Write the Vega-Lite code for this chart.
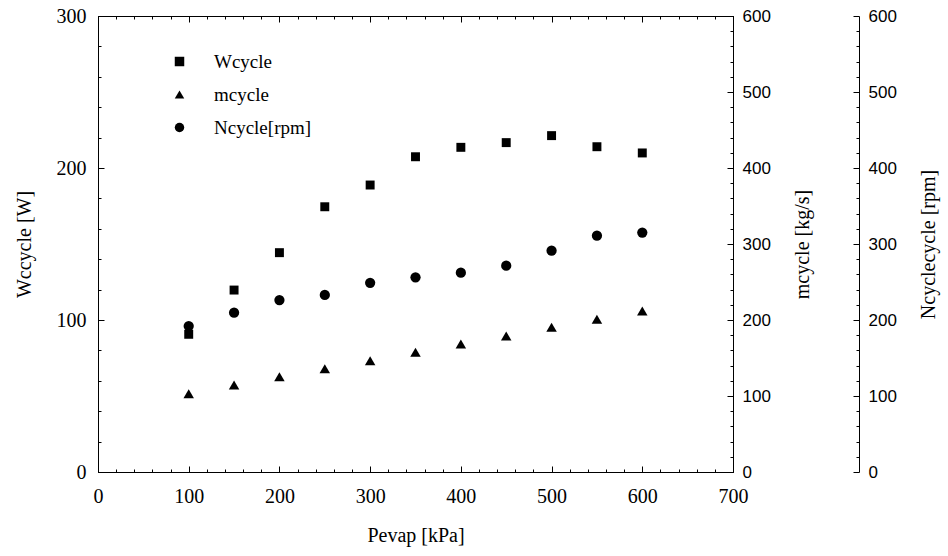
{
  "$schema": "https://vega.github.io/schema/vega-lite/v6.json",
  "width": 635,
  "height": 456,
  "autosize": {"type": "none"},
  "padding": {"left": 98, "top": 16, "right": 215, "bottom": 84},
  "background": "white",
  "config": {
    "view": {"stroke": "black", "strokeWidth": 1},
    "axis": {
      "domainColor": "black",
      "tickColor": "black",
      "labelColor": "black",
      "titleColor": "black",
      "grid": false,
      "labelOverlap": false,
      "labelFlush": false,
      "titleFontWeight": "normal"
    },
    "legend": {"labelFont": "Liberation Serif", "labelFontSize": 19, "labelColor": "black"}
  },
  "data": {
    "values": [
      {"P": 100, "W": 90.6, "m": 103.0, "N": 192.0},
      {"P": 150, "W": 119.7, "m": 114.5, "N": 209.6},
      {"P": 200, "W": 144.3, "m": 125.4, "N": 226.3},
      {"P": 250, "W": 174.5, "m": 135.9, "N": 232.9},
      {"P": 300, "W": 188.8, "m": 146.4, "N": 249.0},
      {"P": 350, "W": 207.4, "m": 157.5, "N": 256.1},
      {"P": 400, "W": 213.6, "m": 168.4, "N": 262.3},
      {"P": 450, "W": 216.7, "m": 179.0, "N": 271.4},
      {"P": 500, "W": 221.3, "m": 190.4, "N": 291.2},
      {"P": 550, "W": 214.0, "m": 200.9, "N": 311.0},
      {"P": 600, "W": 209.9, "m": 211.8, "N": 315.0}
    ]
  },
  "resolve": {"scale": {"x": "independent", "y": "independent"}},
  "layer": [
    {
      "mark": {"type": "point", "filled": true, "color": "black", "opacity": 1, "size": 80},
      "encoding": {
        "x": {
          "field": "P", "type": "quantitative",
          "scale": {"domain": [0, 700], "nice": false, "zero": false},
          "axis": {
            "orient": "bottom",
            "values": [0,20,40,60,80,100,120,140,160,180,200,220,240,260,280,300,320,340,360,380,400,420,440,460,480,500,520,540,560,580,600,620,640,660,680,700],
            "labelExpr": "datum.value % 100 === 0 ? datum.label : ''",
            "tickSize": {"condition": {"test": "datum.value % 100 === 0", "value": -6}, "value": -3},
            "labelPadding": 20,
            "labelFont": "Liberation Serif",
            "labelFontSize": 20,
            "title": "Pevap [kPa]",
            "titleFont": "Liberation Serif",
            "titleFontSize": 20,
            "titlePadding": 16
          }
        },
        "y": {
          "field": "W", "type": "quantitative",
          "scale": {"domain": [0, 300], "nice": false, "zero": false},
          "axis": {
            "orient": "left",
            "values": [0,20,40,60,80,100,120,140,160,180,200,220,240,260,280,300],
            "labelExpr": "datum.value % 100 === 0 ? datum.label : ''",
            "tickSize": {"condition": {"test": "datum.value % 100 === 0", "value": -6}, "value": -3},
            "labelPadding": 18,
            "labelFont": "Liberation Serif",
            "labelFontSize": 20,
            "title": "Wccycle [W]",
            "titleFont": "Liberation Serif",
            "titleFontSize": 20,
            "titlePadding": 22
          }
        },
        "shape": {
          "datum": "Wcycle",
          "type": "nominal",
          "scale": {"domain": ["Wcycle", "mcycle", "Ncycle[rpm]"], "range": ["square", "triangle-up", "circle"]},
          "legend": {
            "title": null,
            "orient": "none",
            "legendX": 72,
            "legendY": 36,
            "padding": 0,
            "symbolSize": 90,
            "symbolFillColor": "black",
            "symbolStrokeColor": "black",
            "symbolStrokeWidth": 0,
            "labelOffset": 25,
            "rowPadding": 13,
            "labelFont": "Liberation Serif",
            "labelFontSize": 19
          }
        }
      }
    },
    {
      "mark": {"type": "point", "filled": true, "color": "black", "opacity": 1, "size": 110},
      "encoding": {
        "x": {
          "field": "P", "type": "quantitative",
          "scale": {"domain": [0, 700], "nice": false, "zero": false},
          "axis": {
            "orient": "top",
            "values": [0,20,40,60,80,100,120,140,160,180,200,220,240,260,280,300,320,340,360,380,400,420,440,460,480,500,520,540,560,580,600,620,640,660,680,700],
            "labels": false,
            "tickSize": {"condition": {"test": "datum.value % 100 === 0", "value": -6}, "value": -3},
            "title": null
          }
        },
        "y": {
          "field": "m", "type": "quantitative",
          "scale": {"domain": [0, 600], "nice": false, "zero": false},
          "axis": {
            "orient": "right",
            "values": [0,20,40,60,80,100,120,140,160,180,200,220,240,260,280,300,320,340,360,380,400,420,440,460,480,500,520,540,560,580,600],
            "labelExpr": "datum.value % 100 === 0 ? datum.label : ''",
            "tickSize": {"condition": {"test": "datum.value % 100 === 0", "value": -6}, "value": -3},
            "labelPadding": 15,
            "labelFont": "Liberation Sans",
            "labelFontSize": 17,
            "title": "mcycle [kg/s]",
            "titleFont": "Liberation Serif",
            "titleFontSize": 20,
            "titleAngle": -90,
            "titlePadding": 42
          }
        },
        "shape": {"datum": "mcycle", "type": "nominal"}
      }
    },
    {
      "mark": {"type": "point", "filled": true, "color": "black", "opacity": 1, "size": 105},
      "encoding": {
        "x": {
          "field": "P", "type": "quantitative",
          "scale": {"domain": [0, 700], "nice": false, "zero": false},
          "axis": null
        },
        "y": {
          "field": "N", "type": "quantitative",
          "scale": {"domain": [0, 600], "nice": false, "zero": false},
          "axis": {
            "orient": "right",
            "offset": 126,
            "values": [0,20,40,60,80,100,120,140,160,180,200,220,240,260,280,300,320,340,360,380,400,420,440,460,480,500,520,540,560,580,600],
            "labelExpr": "datum.value % 100 === 0 ? datum.label : ''",
            "tickSize": {"condition": {"test": "datum.value % 100 === 0", "value": -6}, "value": -3},
            "labelPadding": 15,
            "labelFont": "Liberation Sans",
            "labelFontSize": 17,
            "title": "Ncyclecycle [rpm]",
            "titleFont": "Liberation Serif",
            "titleFontSize": 20,
            "titleAngle": -90,
            "titlePadding": 42
          }
        },
        "shape": {"datum": "Ncycle[rpm]", "type": "nominal"}
      }
    }
  ]
}
